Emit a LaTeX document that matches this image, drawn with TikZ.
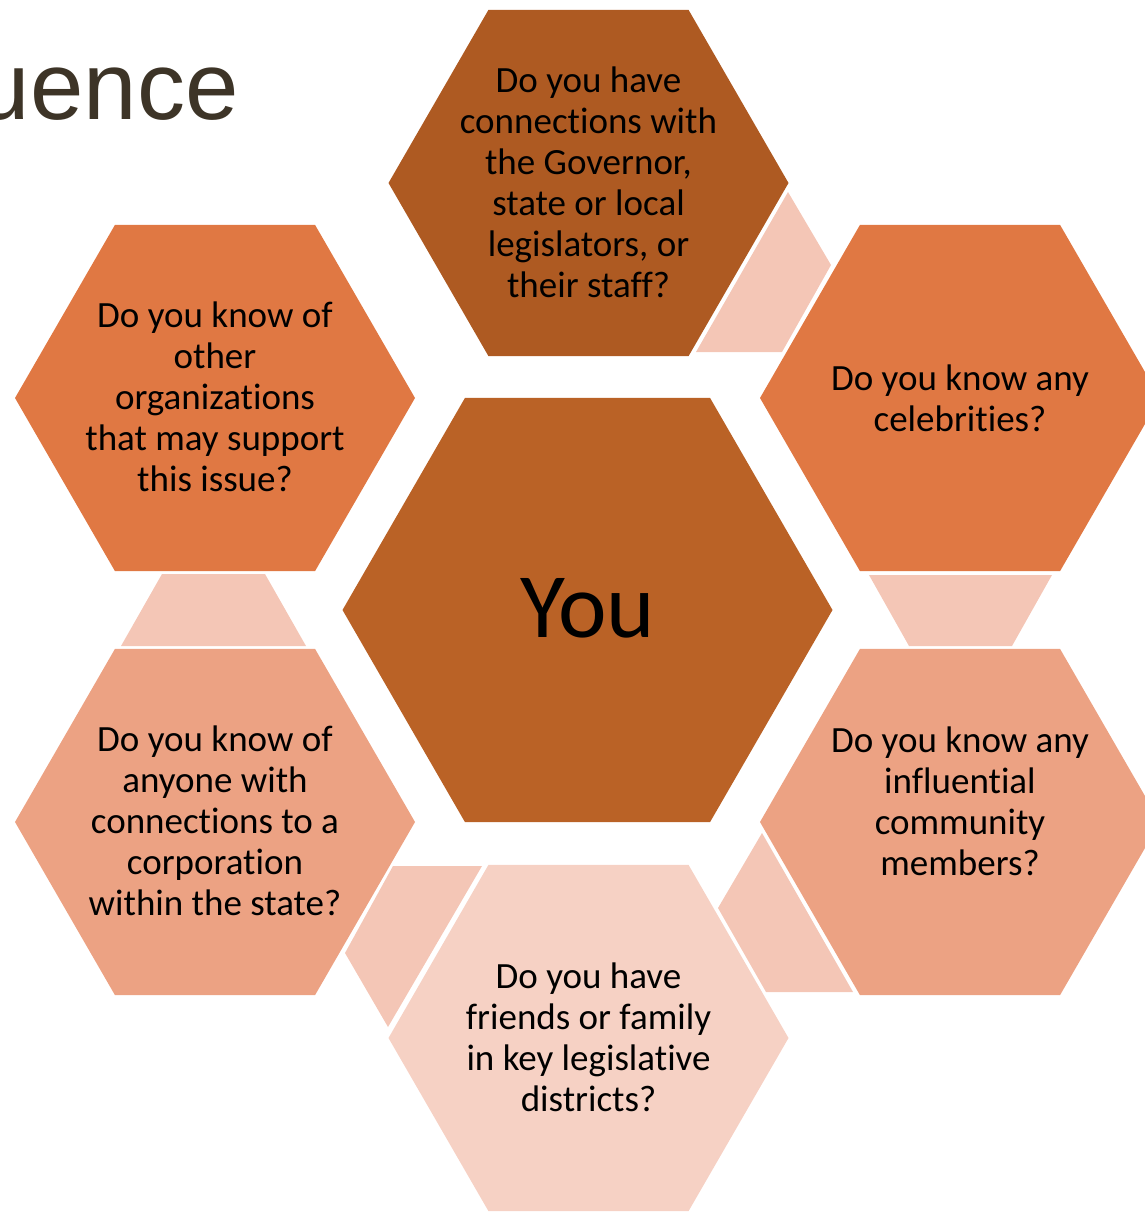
\documentclass[tikz,border=0pt]{standalone}
\usepackage{fontspec}
\setmainfont{Carlito}[Ligatures=NoCommon]
\newfontfamily\headfont{Liberation Sans}
\usetikzlibrary{shapes.geometric}
\pgfdeclarelayer{edgelayer}
\pgfdeclarelayer{nodelayer}
\pgfsetlayers{edgelayer,nodelayer,main}
\definecolor{rustdark}{HTML}{AE5A22}
\definecolor{rustmid}{HTML}{BA6226}
\definecolor{orangehex}{HTML}{E07843}
\definecolor{salmonhex}{HTML}{ECA283}
\definecolor{palehex}{HTML}{F6D1C4}
\definecolor{bandpink}{HTML}{F4C6B6}
\definecolor{headbrown}{HTML}{3D3427}
\tikzstyle{none} = [inner sep=0pt]
\tikzstyle{hex} = [regular polygon, regular polygon sides=6, inner sep=0pt, outer sep=0pt, draw=none, minimum size=400pt]
\tikzstyle{big hex} = [hex, minimum size=490pt]
\tikzstyle{question} = [align=center, text=black, font=\fontsize{37}{41}\selectfont]
\tikzstyle{band} = [fill=bandpink]

\begin{document}
\begin{tikzpicture}[x=1pt, y=-1pt]
	\useasboundingbox (0, 0) rectangle (1145, 1212);
	\begin{pgfonlayer}{nodelayer}
		\node [style=big hex, fill=rustmid] (0) at (587.5, 610) {};
		\node [style=hex, fill=rustdark] (1) at (588.5, 183) {};
		\node [style=hex, fill=orangehex] (2) at (960, 398) {};
		\node [style=hex, fill=salmonhex] (3) at (960, 822) {};
		\node [style=hex, fill=palehex] (4) at (588.5, 1038) {};
		\node [style=hex, fill=salmonhex] (5) at (215, 822) {};
		\node [style=hex, fill=orangehex] (6) at (215, 398) {};
		\node [style=none] (10) at (788, 192) {};
		\node [style=none] (11) at (831, 265) {};
		\node [style=none] (12) at (782, 352) {};
		\node [style=none] (13) at (696, 352) {};
		\node [style=none] (14) at (869, 575) {};
		\node [style=none] (15) at (1052, 575) {};
		\node [style=none] (16) at (1012, 646) {};
		\node [style=none] (17) at (909, 646) {};
		\node [style=none] (18) at (762, 833) {};
		\node [style=none] (19) at (853, 992) {};
		\node [style=none] (20) at (766, 992) {};
		\node [style=none] (21) at (718, 908) {};
		\node [style=none] (22) at (393, 866) {};
		\node [style=none] (23) at (482, 866) {};
		\node [style=none] (24) at (388, 1027) {};
		\node [style=none] (25) at (345, 953) {};
		\node [style=none] (26) at (162, 574) {};
		\node [style=none] (27) at (265, 574) {};
		\node [style=none] (28) at (306, 646) {};
		\node [style=none] (29) at (121, 646) {};
	\end{pgfonlayer}
	\begin{pgfonlayer}{edgelayer}
		\fill [style=band] (10.center) -- (11.center) -- (12.center) -- (13.center) -- cycle;
		\fill [style=band] (14.center) -- (15.center) -- (16.center) -- (17.center) -- cycle;
		\fill [style=band] (18.center) -- (19.center) -- (20.center) -- (21.center) -- cycle;
		\fill [style=band] (22.center) -- (23.center) -- (24.center) -- (25.center) -- cycle;
		\fill [style=band] (26.center) -- (27.center) -- (28.center) -- (29.center) -- cycle;
	\end{pgfonlayer}
	\node [anchor=base east, text=headbrown, font=\headfont\fontsize{96}{96}\selectfont] (30) at (242, 120) {Influence};
	\node [font=\fontsize{92}{92}\selectfont] (31) at (587.5, 608) {You};
	\node [style=question] (32) at (588.5, 182) {Do you have\\connections with\\the Governor,\\state or local\\legislators, or\\their staff?};
	\node [style=question] (33) at (960, 398) {Do you know any\\celebrities?};
	\node [style=question] (34) at (960, 801) {Do you know any\\influential\\community\\members?};
	\node [style=question] (35) at (588.5, 1037) {Do you have\\friends or family\\in key legislative\\districts?};
	\node [style=question] (36) at (215, 821) {Do you know of\\anyone with\\connections to a\\corporation\\within the state?};
	\node [style=question] (37) at (215, 397) {Do you know of\\other\\organizations\\that may support\\this issue?};
\end{tikzpicture}
\end{document}
